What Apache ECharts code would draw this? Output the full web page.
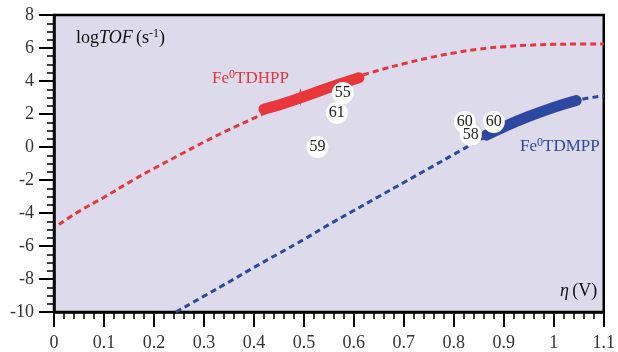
<!DOCTYPE html>
<html><head><meta charset="utf-8">
<script src="https://cdn.jsdelivr.net/npm/echarts@6/dist/echarts.min.js"></script>
<style>html,body{margin:0;padding:0;background:#fff}#c{width:618px;height:352px}</style>
</head><body><div id="c"></div>
<script>
// Model curves (dashed)
const redCurve = [[0.01,-4.7],[0.05,-3.9],[0.1,-3.05],[0.15,-2.15],[0.2,-1.3],[0.25,-0.5],[0.3,0.3],[0.35,1.05],[0.4,1.75],[0.45,2.45],[0.5,3.1],[0.55,3.7],[0.6,4.2],[0.65,4.65],[0.7,5.05],[0.75,5.4],[0.8,5.7],[0.85,5.93],[0.9,6.08],[0.95,6.17],[1.0,6.22],[1.05,6.24],[1.1,6.25]];
const blueCurve = [[0.244,-10],[0.3,-9.04],[0.35,-8.18],[0.4,-7.3],[0.45,-6.45],[0.5,-5.6],[0.55,-4.7],[0.6,-3.85],[0.65,-3.0],[0.7,-2.15],[0.75,-1.3],[0.8,-0.45],[0.85,0.4],[0.9,1.2],[0.95,1.85],[1.0,2.4],[1.05,2.85],[1.1,3.1]];
// Experimental segments (thick)
const redExp = [[0.42,2.3],[0.45,2.55],[0.5,3.05],[0.55,3.6],[0.6,4.1],[0.61,4.2]];
const blueExp = [[0.865,0.72],[0.9,1.22],[0.95,1.85],[1.0,2.4],[1.045,2.82]];
const redStar = [[0.493,3.03]];
// Numbered reference points
const refPoints = [[0.527,0,'59'],[0.566,2.06,'61'],[0.578,3.27,'55'],[0.822,1.52,'60'],[0.834,0.75,'58'],[0.880,1.52,'60']];

const RED = '#e8363a', BLUE = '#2c48a0', SERIF = '"Liberation Serif", "DejaVu Serif", serif';
const chart = echarts.init(document.getElementById('c'));
chart.setOption({
  animation: false,
  grid: {left: 54, right: 9, top: 15, bottom: 40, show: true, backgroundColor: '#dcdaeb', borderColor: '#000', borderWidth: 2.5},
  xAxis: {type: 'value', min: 0, max: 1.1, interval: 0.1,
    axisLine: {show: true, onZero: false, lineStyle: {color: '#000', width: 2.5}},
    axisTick: {show: true, inside: false, length: 15, lineStyle: {color: '#000', width: 2}},
    minorTick: {show: true, splitNumber: 5, length: 7, lineStyle: {color: '#000', width: 1.5}},
    splitLine: {show: false},
    axisLabel: {margin: 22, fontSize: 18, fontFamily: SERIF, color: '#333'}},
  yAxis: {type: 'value', min: -10, max: 8, interval: 2,
    axisLine: {show: true, onZero: false, lineStyle: {color: '#000', width: 2.5}},
    axisTick: {show: true, inside: false, length: 15, lineStyle: {color: '#000', width: 2}},
    minorTick: {show: true, splitNumber: 4, length: 7, lineStyle: {color: '#000', width: 1.5}},
    splitLine: {show: false},
    axisLabel: {margin: 20, fontSize: 18, fontFamily: SERIF, color: '#333'}},
  series: [
    {type: 'line', data: redCurve, smooth: true, showSymbol: false, lineStyle: {color: RED, width: 3, type: [6, 4]}},
    {type: 'line', data: blueCurve, smooth: true, showSymbol: false, lineStyle: {color: BLUE, width: 3, type: [6, 4]}},
    {type: 'line', data: redExp, smooth: true, showSymbol: false, lineStyle: {color: RED, width: 11, cap: 'round'}},
    {type: 'line', data: blueExp, smooth: true, showSymbol: false, lineStyle: {color: BLUE, width: 11, cap: 'round'}},
    {type: 'scatter', data: redStar, symbol: 'path://M0,-10 L2,-2 L10,0 L2,2 L0,10 L-2,2 L-10,0 L-2,-2 Z', symbolSize: 18, itemStyle: {color: RED, opacity: 1}},
    {type: 'scatter', z: 5, data: refPoints, symbol: 'circle', symbolSize: 22, itemStyle: {color: '#fff', opacity: 1},
      label: {show: true, position: 'inside', formatter: p => p.value[2], fontSize: 16, fontFamily: SERIF, color: '#222'}}
  ],
  graphic: [
    {type: 'text', left: 76, top: 28, style: {text: '{n|log}{i|TOF} {n|(s}{s|-1}{n|)}', rich: {
      n: {fontSize: 18, fontFamily: SERIF, fill: '#111'}, i: {fontSize: 18, fontFamily: SERIF, fontStyle: 'italic', fill: '#111'},
      s: {fontSize: 12, fontFamily: SERIF, fill: '#111', padding: [0, 0, 8, 0]}}}},
    {type: 'text', left: 212, top: 69, style: {text: '{n|Fe}{s|0}{n|TDHPP}', rich: {
      n: {fontSize: 17, fontFamily: SERIF, fill: RED}, s: {fontSize: 12, fontFamily: SERIF, fill: RED, padding: [0, 0, 7, 0]}}}},
    {type: 'text', left: 520, top: 137, style: {text: '{n|Fe}{s|0}{n|TDMPP}', rich: {
      n: {fontSize: 17, fontFamily: SERIF, fill: BLUE}, s: {fontSize: 12, fontFamily: SERIF, fill: BLUE, padding: [0, 0, 7, 0]}}}},
    {type: 'text', left: 560, top: 282, style: {text: '{i|η} {n|(V)}', rich: {
      n: {fontSize: 18, fontFamily: SERIF, fill: '#111'}, i: {fontSize: 18, fontFamily: SERIF, fontStyle: 'italic', fill: '#111'}}}}
  ]
});
</script></body></html>
